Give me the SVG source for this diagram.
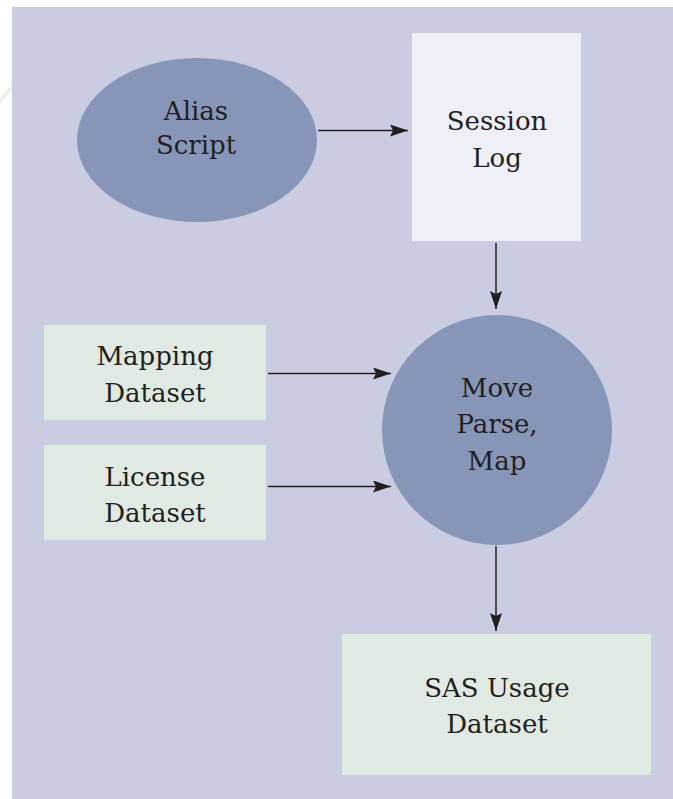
<svg xmlns="http://www.w3.org/2000/svg" width="673" height="799" viewBox="0 0 673 799">
  <style>
    .lbl { font-family: "DejaVu Serif", "Liberation Serif", serif; font-size: 26px; fill: #231f20; text-anchor: middle; }
    .proc { fill: #8795b8; }
    .store { fill: #e0eae2; }
    .log { fill: #eff0f7; }
    .wire { stroke: #231f20; stroke-width: 1.5; fill: none; marker-end: url(#head); }
  </style>
  <defs>
    <marker id="head" viewBox="0 0 18 12" refX="18" refY="6" markerWidth="18" markerHeight="12" markerUnits="userSpaceOnUse" orient="auto">
      <path d="M0,0 L18,6 L0,12 L3,6 Z" fill="#231f20"/>
    </marker>
  </defs>

  <rect width="673" height="799" fill="#ffffff"/>
  <path d="M0,98 L12,84 L12,90 L0,104 Z" fill="#efefea"/>
  <rect x="12" y="7" width="661" height="792" fill="#cacde1"/>

  <g id="connectors">
    <line class="wire" x1="318" y1="130.5" x2="408" y2="130.5"/>
    <line class="wire" x1="496" y1="243" x2="496" y2="309"/>
    <line class="wire" x1="268" y1="373.5" x2="391" y2="373.5"/>
    <line class="wire" x1="268" y1="486.5" x2="391" y2="486.5"/>
    <line class="wire" x1="496" y1="546" x2="496" y2="631"/>
  </g>

  <g id="alias-script">
    <ellipse class="proc" cx="197" cy="140" rx="120" ry="82"/>
    <text class="lbl" x="196" y="120">Alias</text>
    <text class="lbl" x="196" y="154">Script</text>
  </g>

  <g id="session-log">
    <rect class="log" x="412" y="33" width="169" height="208"/>
    <text class="lbl" x="497" y="130">Session</text>
    <text class="lbl" x="497" y="167">Log</text>
  </g>

  <g id="move-parse-map">
    <circle class="proc" cx="497" cy="430" r="115"/>
    <text class="lbl" x="497" y="397">Move</text>
    <text class="lbl" x="497" y="433">Parse,</text>
    <text class="lbl" x="497" y="470">Map</text>
  </g>

  <g id="mapping-dataset">
    <rect class="store" x="44" y="325" width="222" height="95"/>
    <text class="lbl" x="155" y="365">Mapping</text>
    <text class="lbl" x="155" y="402">Dataset</text>
  </g>

  <g id="license-dataset">
    <rect class="store" x="44" y="445" width="222" height="95"/>
    <text class="lbl" x="155" y="486">License</text>
    <text class="lbl" x="155" y="522">Dataset</text>
  </g>

  <g id="sas-usage-dataset">
    <rect class="store" x="342" y="634" width="309" height="141"/>
    <text class="lbl" x="497" y="697">SAS Usage</text>
    <text class="lbl" x="497" y="733">Dataset</text>
  </g>
</svg>
